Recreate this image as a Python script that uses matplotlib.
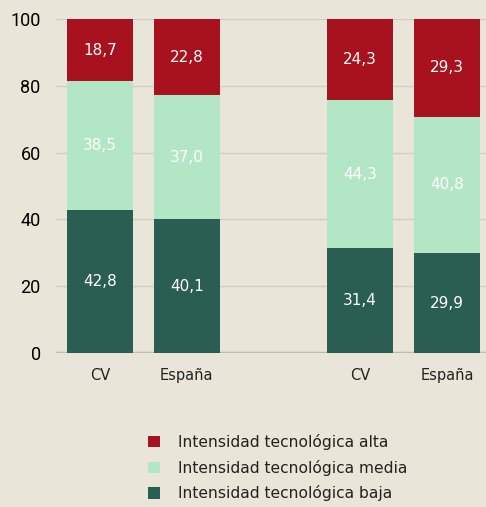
import numpy as np
import matplotlib.pyplot as plt

categorias = ['CV', 'España', 'CV', 'España']
posiciones = [0, 1, 3, 4]
baja = [42.8, 40.1, 31.4, 29.9]
media = [38.5, 37.0, 44.3, 40.8]
alta = [18.7, 22.8, 24.3, 29.3]
series = ['Intensidad tecnológica alta', 'Intensidad tecnológica media',
          'Intensidad tecnológica baja']

fondo = '#e9e5d8'
colores = {'baja': '#2b5e52', 'media': '#b3e6c5', 'alta': '#a8111e'}

fig = plt.figure(figsize=(4.86, 5.07), dpi=100, facecolor=fondo)
ax = fig.add_axes([56/486, 1 - 353/507, 1 - 56/486, (353 - 19)/507])
ax.set_facecolor(fondo)

w = 0.76
b1 = ax.bar(posiciones, baja, w, color=colores['baja'], zorder=3)
b2 = ax.bar(posiciones, media, w, bottom=baja, color=colores['media'], zorder=3)
bottom3 = np.array(baja) + np.array(media)
b3 = ax.bar(posiciones, alta, w, bottom=bottom3, color=colores['alta'], zorder=3)

for bars in (b1, b2, b3):
    ax.bar_label(bars, labels=[f'{v:.1f}'.replace('.', ',') for v in bars.datavalues],
                 label_type='center', color='white', fontsize=11, family='DejaVu Sans')

ax.set_ylim(0, 100)
ax.set_xlim(-0.506, 4.45)
ax.set_yticks(range(0, 101, 20))
ax.set_xticks(posiciones)
ax.set_xticklabels(categorias, fontsize=10.5, family='DejaVu Sans', color='#222222')
ax.tick_params(axis='y', labelsize=13, length=0, pad=11)
ax.tick_params(axis='x', length=0, pad=11)
for t in ax.get_yticklabels():
    t.set_family('Roboto')
ax.grid(axis='y', color='#d2cec6', lw=1, zorder=0)
for s in ax.spines.values():
    s.set_visible(False)
ax.axhline(0, color='#bcb9b2', lw=2.5, zorder=2)

handles = [b3, b2, b1]
leg = fig.legend(handles, series, loc='upper left', bbox_to_anchor=(134/486, 1 - 420/507),
                 frameon=False, fontsize=11.2, handlelength=0.75, handleheight=0.75,
                 handletextpad=1.15, labelspacing=0.62)
for t in leg.get_texts():
    t.set_color('#222222')

fig.savefig('out.png', dpi=100, facecolor=fondo)
